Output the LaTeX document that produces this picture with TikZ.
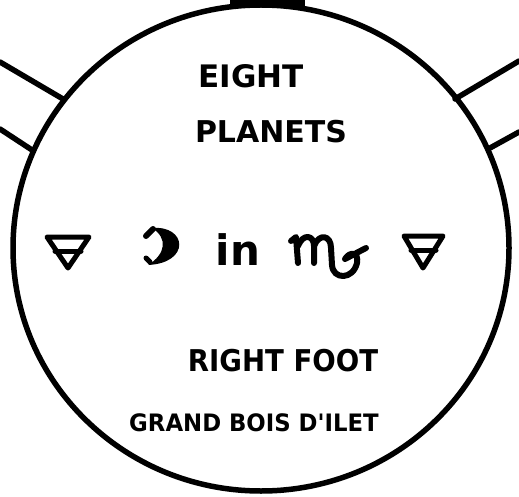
\documentclass[tikz,border=0pt]{standalone}
\usepackage{fontspec}
\newfontfamily\handfont{DejaVu Sans}
\begin{document}
\begin{tikzpicture}[x=1pt,y=-1pt,
  ink/.style={line width=5.5pt,line cap=round,line join=round,draw=black},
  lbl/.style={anchor=base,inner sep=0pt,text=black},
  earthsym/.style={ink,line width=5pt},
  glyph/.style={line width=6pt,line cap=round,line join=round,draw=black}]
\useasboundingbox (0,0) rectangle (519,497);
% outer circle
\draw[ink] (261,248) ellipse [x radius=248, y radius=243];
\fill[black] (230,0) rectangle (305,7);
% connector end points
\coordinate (lu0) at (0,62);   \coordinate (lu1) at (63,99);
\coordinate (ll0) at (0,129);  \coordinate (ll1) at (32,150);
\coordinate (ru0) at (519,61); \coordinate (ru1) at (455,99);
\coordinate (rl0) at (519,132);\coordinate (rl1) at (490,148);
\draw[ink] (lu0) -- (lu1);
\draw[ink] (ll0) -- (ll1);
\draw[ink] (ru0) -- (ru1);
\draw[ink] (rl0) -- (rl1);
% texts
\node[lbl,font=\handfont\bfseries\fontsize{31}{31}\selectfont] (eight) at (251,88) {EIGHT};
\node[lbl,font=\handfont\bfseries\fontsize{30}{30}\selectfont] (planets) at (271,143) {PLANETS};
\node[lbl,font=\handfont\bfseries\fontsize{30}{30}\selectfont,xscale=0.92] (foot) at (283,371) {RIGHT FOOT};
\node[lbl,font=\handfont\bfseries\fontsize{24}{24}\selectfont,xscale=0.95] (bois) at (254,431) {GRAND BOIS D'ILET};
\node[lbl,font=\handfont\bfseries\fontsize{42}{42}\selectfont] (in) at (238,265) {in};
% moon
\coordinate (moon) at (163,246);
\fill[black] (152,228) .. controls (187,225) and (191,263) .. (148,265)
  .. controls (166,254) and (168,238) .. cycle;
\draw[glyph] (146,236) -- (153,229);
\draw[glyph,line width=5pt] (150,262) -- (146,258);
% virgo
\coordinate (virgo) at (328,255);
\draw[glyph] (291,241) -- (296,237) -- (298,263);
\draw[glyph] (298,246) .. controls (303,233) and (314,235) .. (314,246) -- (314,263);
\draw[glyph] (314,246) .. controls (319,233) and (331,235) .. (331,248) -- (332,265)
  .. controls (333,280) and (353,280) .. (357,263)
  .. controls (359,252) and (350,251) .. (345,259) -- (366,248);
% earth symbols
\coordinate (ea) at (47,237); \coordinate (eb) at (89,237); \coordinate (ec) at (68,268);
\draw[earthsym] (ea) -- (eb) -- (ec) -- cycle;
\coordinate (ed) at (55,251); \coordinate (ee) at (81,251);
\draw[earthsym] (ed) -- (ee);
\coordinate (fa) at (404,236); \coordinate (fb) at (443,236); \coordinate (fc) at (423,268);
\draw[earthsym] (fa) -- (fb) -- (fc) -- cycle;
\coordinate (fd) at (411,250); \coordinate (fe) at (436,250);
\draw[earthsym] (fd) -- (fe);
\end{tikzpicture}
\end{document}
